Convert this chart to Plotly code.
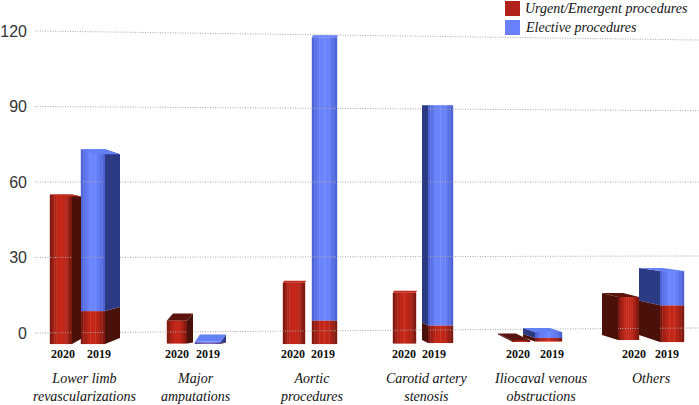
import plotly.graph_objects as go

# ---- data ----
groups = ["Lower limb<br>revascularizations", "Major<br>amputations", "Aortic<br>procedures",
          "Carotid artery<br>stenosis", "Iliocaval venous<br>obstructions", "Others"]
group_centers = [84, 196, 311, 427, 541, 651]
years = ["2020", "2019"] * 6
year_ticks = [63, 99, 177, 208, 293, 323, 404, 434, 518, 552, 634, 667]
urgent_top = [55, 8.7, 5, -4.2, 20, 5, 16, 3, -3, -2, 14.3, 11]
elective_top = [55, 73, 5, -3.4, 20, 117.5, 16, 90.5, -3, 0.4, 14.3, 24.6]
bar_base = [-4.4, -4.4, -4.2, -4.3, -4.4, -4.4, -4.2, -4.0, -3.4, -3.4, -2.8, -3.6]
y_ticks = [0, 30, 60, 90, 120]
grid_right = [2, 30.6, 60, 88.3, 116.4]
legend_names = ["Urgent/Emergent procedures", "Elective procedures"]
legend_colors = ["#b0221a", "#6a80fa"]

# ---- geometry and style ----
PX = 2.517                      # pixels per y unit
x0s = [50, 81, 167, 195, 283, 312, 393, 428, 512, 535, 618, 660]
x1s = [72, 105, 187, 221, 305, 337, 416, 453, 530, 562, 639, 684]
depth_x = [9, 15, 6, 5, 1, 1, 1, -6, -14, -12, -16, -21]
depth_top = [-2, -5, 7, 7, 2, 2, 2, 0, 7, 4, 4, 3]
depth_bot = [5, 6, 1, 1, 0, 0, 0, 3, 7, 4, 5, 7]
dark_top = [0, 0, 1, 0, 0, 0, 0, 0, 1, 0, 1, 0]
SLICES = 10
RED = ((112, 22, 14), (198, 40, 26))
BLUE = ((72, 92, 205), (108, 134, 255))
RED_SIDE, BLUE_SIDE = "#4a110b", "#2c3a84"
RED_TOP, BLUE_TOP = "#c12a1c", "#6480f5"
RED_TOP_D, BLUE_TOP_D = "#5a140d", "#4a5fdc"


def shade(pair, t):
    k = 1 - abs(2 * t - 1) ** 2
    return "rgb(%d,%d,%d)" % tuple(a + (b - a) * k for a, b in zip(*pair))


fig = go.Figure()
for v, r in zip(y_ticks, grid_right):
    fig.add_trace(go.Scatter(x=[35, 699], y=[v, r], mode="lines", showlegend=False, hoverinfo="skip",
                             line=dict(color="#a8a8a8", width=1, dash="1px 1.5px")))


def poly(xs, ys, color):
    fig.add_trace(go.Scatter(x=xs, y=ys, mode="lines", fill="toself", fillcolor=color,
                             line=dict(width=0, color=color), showlegend=False, hoverinfo="skip"))


def face(x0, x1, lo, hi, pair):
    if hi <= lo:
        return
    w = (x1 - x0) / SLICES
    fig.add_trace(go.Bar(x=[x0 + (i + .5) * w for i in range(SLICES)], y=[hi - lo] * SLICES,
                         base=[lo] * SLICES, width=w + .4, showlegend=False, hoverinfo="skip",
                         marker=dict(color=[shade(pair, (i + .5) / SLICES) for i in range(SLICES)],
                                     line=dict(width=0))))


for i in range(12):
    x0, x1, base = x0s[i], x1s[i], bar_base[i]
    ut, et = urgent_top[i], elective_top[i]
    dx, dt, db = depth_x[i], depth_top[i] / PX, depth_bot[i] / PX

    def back(v):
        return v + db + (dt - db) * (v - base) / (et - base)

    xs = x1 if dx >= 0 else x0
    is_blue = et > ut
    if abs(dx) > 1:
        poly([xs, xs, xs + dx, xs + dx, xs], [base, ut, back(ut), back(base), base], RED_SIDE)
        if is_blue:
            poly([xs, xs, xs + dx, xs + dx, xs], [ut, et, back(et), back(ut), ut], BLUE_SIDE)
    top = (BLUE_TOP_D if dark_top[i] else BLUE_TOP) if is_blue else (RED_TOP_D if dark_top[i] else RED_TOP)
    poly([x0, x1, x1 + dx, x0 + dx, x0], [et, et, back(et), back(et), et], top)
    face(x0, x1, base, ut, RED)
    if is_blue:
        face(x0, x1, ut, et, BLUE)

# legend: swatch + italic text
for k, (name, c) in enumerate(zip(legend_names, legend_colors)):
    top_px = 1 + 19 * k
    fig.add_shape(type="rect", xref="x", yref="paper", x0=505, x1=520,
                  y0=1 - (top_px + 15) / 345, y1=1 - top_px / 345, fillcolor=c, line_width=0)
    fig.add_annotation(x=523, xref="x", y=1 - (top_px + 7.5) / 345, yref="paper", xanchor="left", yanchor="middle",
                       text=name, showarrow=False,
                       font=dict(family="Liberation Serif", size=14, style="italic", color="#111"))

for g, cx in zip(groups, group_centers):
    fig.add_annotation(x=cx, xref="x", y=-0.07, yref="paper", yanchor="top", text=g, showarrow=False,
                       font=dict(family="Liberation Serif", size=14, style="italic", color="#111"),
                       align="center")

fig.update_layout(
    width=699, height=405, margin=dict(l=28, r=0, t=0, b=60),
    plot_bgcolor="white", paper_bgcolor="white", barmode="overlay", showlegend=False,
    xaxis=dict(range=[28, 699], showgrid=False, zeroline=False, showline=False,
               tickmode="array", tickvals=year_ticks, ticktext=years, ticks="", ticklen=0,
               tickfont=dict(family="Liberation Serif", size=12, weight="bold", color="#111")),
    yaxis=dict(range=[-4.77, 132.3], showgrid=False, zeroline=False, showline=False,
               tickmode="array", tickvals=y_ticks, ticks="", ticklabelstandoff=0,
               tickfont=dict(family="Liberation Sans", size=16, color="#333")),
)
fig.write_html("out.html", post_script="document.body.style.margin='0';", config=dict(displayModeBar=False))
